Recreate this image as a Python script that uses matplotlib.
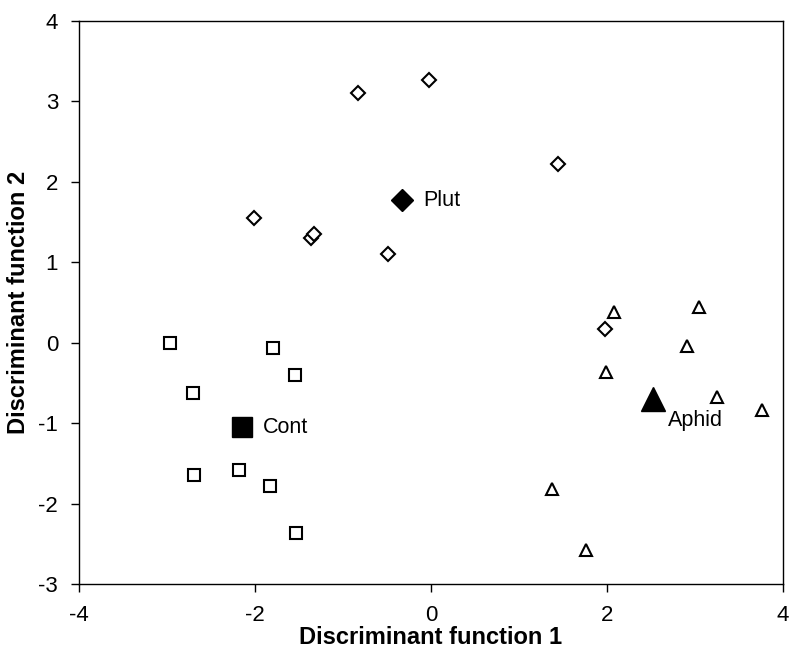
import numpy as np
import matplotlib.pyplot as plt

plt.rcParams['font.family'] = ['Liberation Sans', 'DejaVu Sans']
plt.rcParams['axes.unicode_minus'] = False

# individual scores
plut_x = [-0.83, -0.02, 1.44, -2.01, -1.36, -1.33, -0.49, 1.98]
plut_y = [3.10, 3.27, 2.22, 1.55, 1.30, 1.35, 1.10, 0.17]
cont_x = [-2.97, -1.80, -1.55, -2.71, -2.69, -2.18, -1.83, -1.53]
cont_y = [0.00, -0.07, -0.40, -0.63, -1.65, -1.58, -1.78, -2.36]
aphid_x = [2.08, 3.05, 2.91, 1.99, 3.25, 3.76, 1.37, 1.76]
aphid_y = [0.38, 0.44, -0.04, -0.36, -0.67, -0.84, -1.82, -2.58]

# group centroids
cent_names = ["Plut", "Cont", "Aphid"]
cent_x = [-0.33, -2.15, 2.52]
cent_y = [1.77, -1.05, -0.70]

fig = plt.figure(figsize=(7.91, 6.57), dpi=100)
ax = fig.add_axes([0.0999, 0.111, 0.89, 0.857])

ax.plot(plut_x, plut_y, "D", mfc="white", mec="black", mew=1.5, ms=7, ls="none")
ax.plot(cont_x, cont_y, "s", mfc="white", mec="black", mew=1.5, ms=8, ls="none")
ax.plot(aphid_x, aphid_y, "^", mfc="white", mec="black", mew=1.5, ms=9, ls="none")

ax.plot(cent_x[0], cent_y[0], "D", color="black", ms=11)
ax.plot(cent_x[1], cent_y[1], "s", color="black", ms=14)
ax.plot(cent_x[2], cent_y[2], "^", color="black", ms=17)

ax.text(cent_x[0] + 0.24, cent_y[0], cent_names[0], fontsize=15.5, va="center", ha="left")
ax.text(cent_x[1] + 0.24, cent_y[1], cent_names[1], fontsize=15.5, va="center", ha="left")
ax.text(cent_x[2] + 0.17, cent_y[2] - 0.27, cent_names[2], fontsize=15.5, va="center", ha="left")

ax.set_xlim(-4, 4)
ax.set_ylim(-3, 4)
ax.set_xticks([-4, -2, 0, 2, 4])
ax.set_yticks(np.arange(-3, 5))
ax.tick_params(direction="out", length=6, width=1, labelsize=16, pad=9)
for s in ax.spines.values():
    s.set_linewidth(1.0)
    s.set_color("black")

ax.set_xlabel("Discriminant function 1", fontsize=17, fontweight="bold", labelpad=0)
ax.set_ylabel("Discriminant function 2", fontsize=17, fontweight="bold", labelpad=6)

fig.savefig("out.png", dpi=100)
